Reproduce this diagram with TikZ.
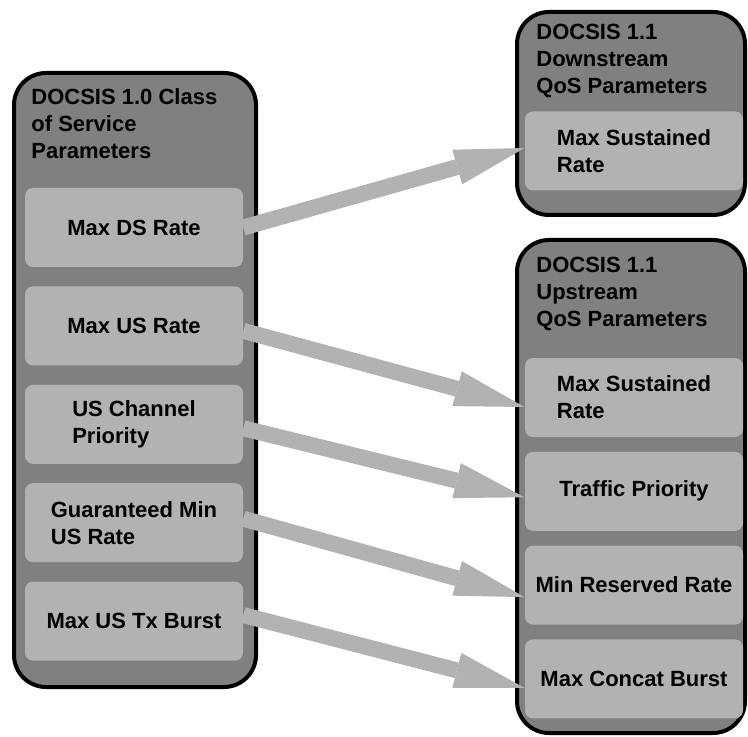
\documentclass[tikz,border=0pt]{standalone}
\usepackage{fontspec}
\setmainfont{Liberation Sans}
\usetikzlibrary{arrows.meta}
\definecolor{cosgray}{gray}{0.5}
\definecolor{boxgray}{gray}{0.7}
\tikzstyle{group} = [draw, line width=2pt, fill=cosgray, rectangle,
    rounded corners=16pt, inner sep=0pt]
\tikzstyle{param} = [fill=boxgray, rectangle, rounded corners=4pt,
    minimum width=109pt, minimum height=39.5pt, inner sep=0pt, align=left]
\tikzstyle{heading} = [inner sep=0pt, anchor=north west, align=left]
\tikzstyle{map} = [draw=boxgray, line width=8pt,
    -{Triangle[length=35pt,width=18pt,line width=0pt]}]

\begin{document}
\begin{tikzpicture}[font=\bfseries\fontsize{11}{13.5}\selectfont, node distance=49.2pt]
    \useasboundingbox (0,0) rectangle (374pt,-368.5pt);
    % % % % % % % % % % % % % % % % % % % % % % %
    % DOCSIS 1.0 side
    % % % % % % % % % % % % % % % % % % % % % % %
    \node [group, minimum width=121pt, minimum height=307pt] (cos) at (67.5pt,-190pt) {};
    \node [heading] (costitle) at ([xshift=9.5pt,yshift=-8.5pt]cos.north west)
        {DOCSIS 1.0 Class\\of Service\\Parameters};

    % Class of Service parameters
    \node [param] (dsrate) at (67pt,-113.75pt) {Max DS Rate};
    \node [param, below of=dsrate] (usrate) {Max US Rate};
    \node [param, below of=usrate] (uschan) {US Channel\\Priority};
    \node [param, below of=uschan] (guarmin) {Guaranteed Min\\US Rate};
    \node [param, below of=guarmin] (usburst) {Max US Tx Burst};

    % % % % % % % % % % % % % % % % % % % % % % %
    % DOCSIS 1.1 side
    % % % % % % % % % % % % % % % % % % % % % % %
    % Downstream group
    \node [group, minimum width=114pt, minimum height=101.5pt] (ds) at (315.5pt,-56.75pt) {};
    \node [heading] (dstitle) at ([xshift=10.5pt,yshift=-7pt]ds.north west)
        {DOCSIS 1.1\\Downstream\\QoS Parameters};
    \node [param] (dssust) at (317pt,-75.5pt) {Max Sustained\\Rate};

    % Upstream group
    \node [group, minimum width=114pt, minimum height=246.5pt] (us) at (315.5pt,-243.25pt) {};
    \node [heading] (ustitle) at ([xshift=10.5pt,yshift=-9.5pt]us.north west)
        {DOCSIS 1.1\\Upstream\\QoS Parameters};
    \node [param] (ussust) at (317pt,-198.75pt) {Max Sustained\\Rate};
    \node [param, below of=ussust, node distance=46.9pt] (traffic) {Traffic Priority};
    \node [param, below of=traffic, node distance=46.9pt] (minres) {Min Reserved Rate};
    \node [param, below of=minres, node distance=46.9pt] (concat) {Max Concat Burst};

    % Mapping arrows, drawn last so they lie over the borders
    \draw [map] (dsrate.east) -- ([yshift=1.5pt]dssust.west);
    \draw [map] ([yshift=-2.5pt]usrate.east) -- ([yshift=-4.75pt]ussust.west);
    \draw [map] ([yshift=-2pt]uschan.east) -- ([yshift=-3pt]traffic.west);
    \draw [map] ([yshift=2pt]guarmin.east) -- ([yshift=-6pt]minres.west);
    \draw [map] ([yshift=3pt]usburst.east) -- ([yshift=-4.5pt]concat.west);
\end{tikzpicture}
\end{document}
